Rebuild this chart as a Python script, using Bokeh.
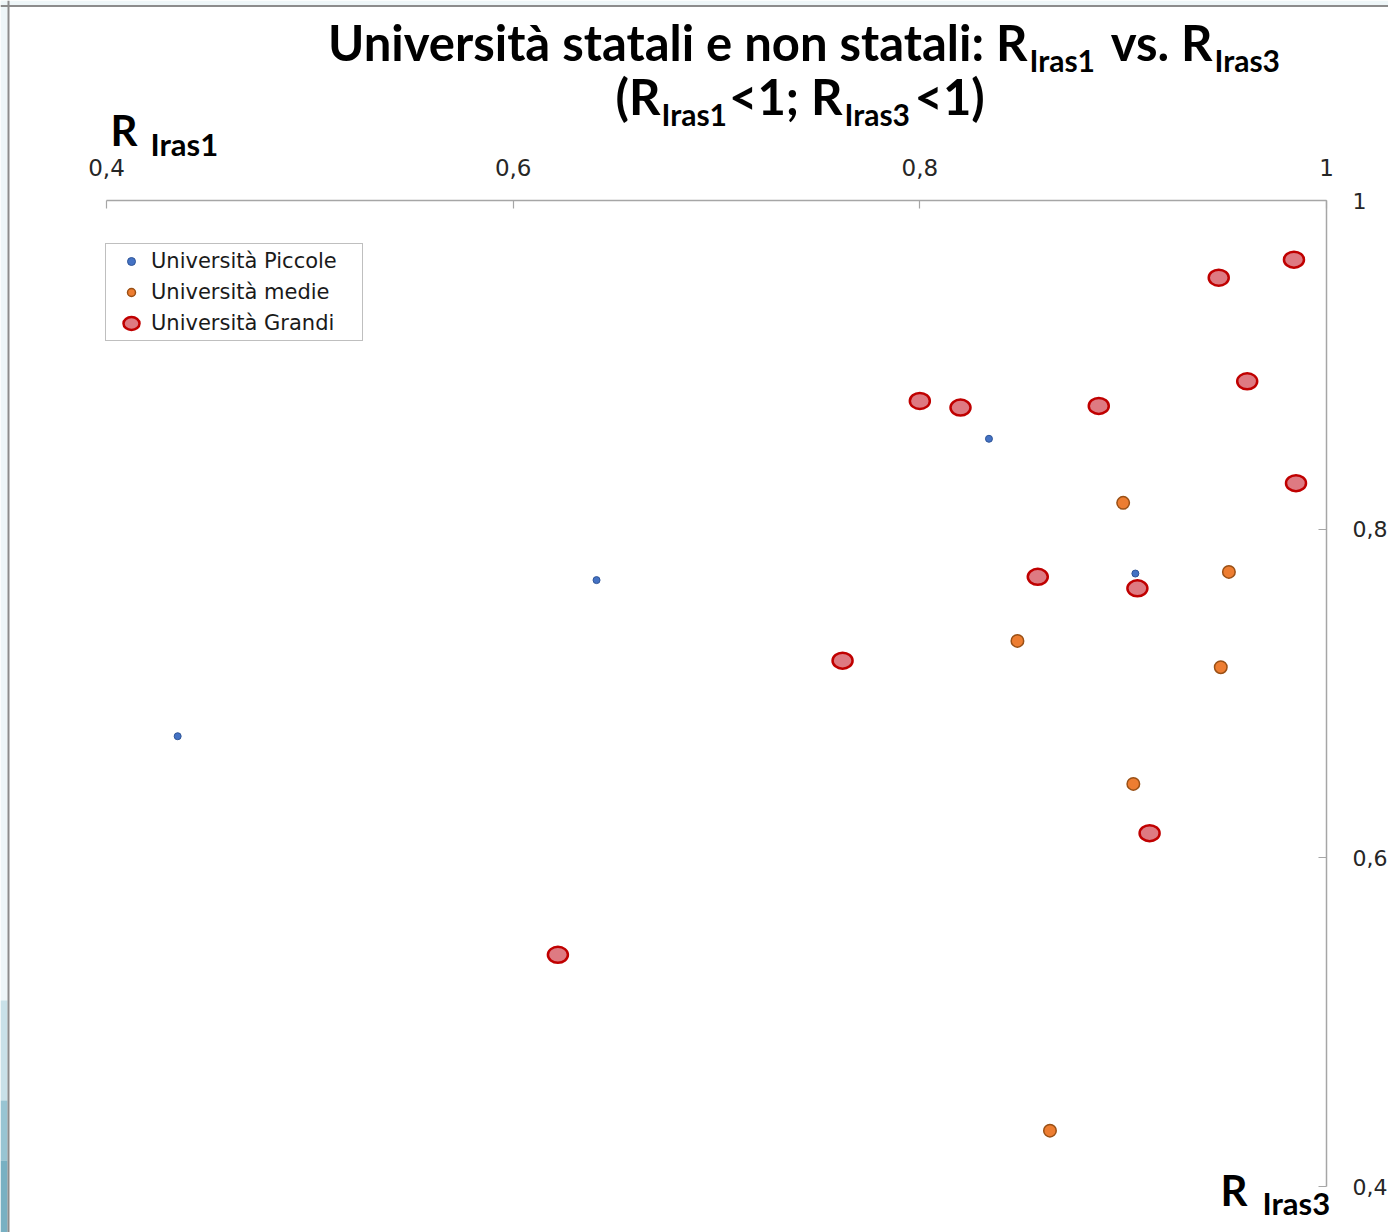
from bokeh.plotting import figure
from bokeh.models import (Range1d, LinearAxis, FixedTicker, CustomJSTickFormatter,
                          Label, Legend, LegendItem, Span, BoxAnnotation)
from bokeh.embed import file_html
from bokeh.resources import INLINE

# ---------------- data ----------------
ticks = [0.4, 0.6, 0.8, 1.0]

piccole_x = [0.834, 0.641, 0.906, 0.435]
piccole_y = [0.855, 0.769, 0.773, 0.674]

medie_x = [0.900, 0.952, 0.848, 0.948, 0.905, 0.864]
medie_y = [0.816, 0.774, 0.732, 0.716, 0.645, 0.434]

grandi_x = [0.984, 0.947, 0.961, 0.800, 0.820, 0.888, 0.985, 0.858, 0.907, 0.762, 0.913, 0.622]
grandi_y = [0.964, 0.953, 0.890, 0.878, 0.874, 0.875, 0.828, 0.771, 0.764, 0.720, 0.615, 0.541]

labels = ["Università Piccole", "Università medie", "Università Grandi"]

# ---------------- layout geometry (page pixels) ----------------
W, H = 1388, 1232
PL, PR, PT, PB = 106, 1326, 200, 1186   # plot area edges for the 0.4..1 axes


def fx(px):
    return 0.4 + (px - PL) * 0.6 / (PR - PL)


def fy(py):
    return 0.4 + (PB - py) * 0.6 / (PB - PT)


p = figure(width=W, height=H, output_backend="svg", toolbar_location=None,
           x_range=Range1d(fx(0), fx(W)), y_range=Range1d(fy(H), fy(0)),
           x_axis_location=None, y_axis_location=None,
           min_border_left=0, min_border_right=0, min_border_top=0, min_border_bottom=0)
p.outline_line_color = None
p.grid.visible = False
p.background_fill_color = "white"
p.border_fill_color = "white"

# slide frame decoration
p.add_layout(BoxAnnotation(right=fx(7), fill_color="#EEF6F8", fill_alpha=1, line_color=None))
p.add_layout(BoxAnnotation(bottom=fy(5), fill_color="#EEF6F8", fill_alpha=1, line_color=None))
p.add_layout(BoxAnnotation(right=fx(7), top=fy(1000), bottom=fy(1100),
                           fill_color="#C9E1E8", fill_alpha=1, line_color=None))
p.add_layout(BoxAnnotation(right=fx(7), top=fy(1100), bottom=fy(1160),
                           fill_color="#98C4D2", fill_alpha=1, line_color=None))
p.add_layout(BoxAnnotation(right=fx(7), top=fy(1160),
                           fill_color="#78B0C2", fill_alpha=1, line_color=None))
p.add_layout(Span(location=fx(8), dimension="height", line_color="#8C8C8C", line_width=2))
p.add_layout(Span(location=fy(5.5), dimension="width", line_color="#8C8C8C", line_width=2))

fmt = CustomJSTickFormatter(code="var s = tick.toFixed(1).replace('.', ','); return s.replace(',0', '');")

xa = LinearAxis(ticker=FixedTicker(ticks=ticks), formatter=fmt, bounds=(0.4, 1.0), fixed_location=1.0)
ya = LinearAxis(ticker=FixedTicker(ticks=ticks), formatter=fmt, bounds=(0.4, 1.0), fixed_location=1.0)
for ax in (xa, ya):
    ax.axis_line_color = "#A6A6A6"
    ax.axis_line_width = 1.5
    ax.major_tick_line_color = "#A6A6A6"
    ax.major_tick_line_width = 1.2
    ax.major_tick_in = 8
    ax.major_tick_out = 0
    ax.minor_tick_line_color = None
    ax.major_label_text_font = "DejaVu Sans"
    ax.major_label_text_color = "#262626"
xa.major_label_text_font_size = "23px"
ya.major_label_text_font_size = "22px"
xa.major_label_standoff = 25
ya.major_label_standoff = 26
p.add_layout(xa, "above")
p.add_layout(ya, "right")

# ---------------- marks ----------------
r_p = p.scatter(piccole_x, piccole_y, marker="circle", size=7,
                fill_color="#4472C4", line_color="#2F5597", line_width=1)
r_m = p.scatter(medie_x, medie_y, marker="circle", size=12.5,
                fill_color="#ED7D31", line_color="#9A5015", line_width=1.5)
r_g = p.ellipse(grandi_x, grandi_y, width=20, height=16,
                width_units="screen", height_units="screen",
                fill_color="#DE7A82", line_color="#C00000", line_width=2.5)

legend = Legend(items=[LegendItem(label=labels[0], renderers=[r_p]),
                       LegendItem(label=labels[1], renderers=[r_m]),
                       LegendItem(label=labels[2], renderers=[r_g])],
                location=(105, H - 341))
legend.margin = 0
legend.padding = 5
legend.spacing = 7
legend.label_height = 20
legend.glyph_height = 20
legend.glyph_width = 40
legend.label_standoff = 0
legend.label_width = 206
legend.label_text_font = "DejaVu Sans"
legend.label_text_font_size = "21px"
legend.label_text_color = "#1a1a1a"
legend.border_line_color = "#808080"
legend.border_line_width = 1
legend.background_fill_alpha = 1
p.add_layout(legend)

# ---------------- title and axis names ----------------
FONT = "Lato"


def lab(text, px, py, size, align="left"):
    # py is the wanted baseline; Bokeh draws ~0.42 em lower, so compensate
    p.add_layout(Label(x=fx(px), y=fy(py - 0.42 * size), text=text, text_font=FONT,
                       text_font_style="bold", text_font_size=f"{size}px",
                       text_align=align, text_baseline="alphabetic",
                       text_color="black"))


big, sub = 49, 30
lab("Università statali e non statali: R", 1027, 62, big, "right")
lab("Iras1", 1029, 72, sub)
lab("vs. R", 1212, 62, big, "right")
lab("Iras3", 1214, 72, sub)

lab("(R", 660, 116, big, "right")
lab("Iras1", 661, 126, sub)
lab("<1; R", 842, 116, big, "right")
lab("Iras3", 844, 126, sub)
lab("<1)", 914, 116, big)

lab("R", 110, 147, 42)
lab("Iras1", 150, 157, 31)
lab("R", 1220, 1207, 42)
lab("Iras3", 1262, 1216, 31)

open("out.html", "w").write(file_html(p, INLINE))
